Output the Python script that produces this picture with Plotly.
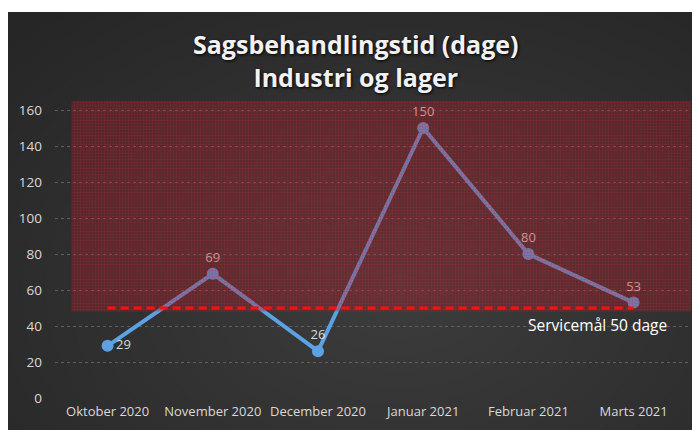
import plotly.graph_objects as go

months = ["Oktober 2020", "November 2020", "December 2020", "Januar 2021", "Februar 2021", "Marts 2021"]
days = [29, 69, 26, 150, 80, 53]
service_goal = 50
service_label = "Servicemål 50 dage"
title_lines = ["Sagsbehandlingstid (dage)", "Industri og lager"]
y_ticks = [0, 20, 40, 60, 80, 100, 120, 140, 160]

W, H = 700, 430
OFF = 8  # page body margin
ML, MR, MT, MB = 47, 17, 93, 40
PW, PH = W - ML - MR, H - MT - MB


def px(x):
    """screen x -> paper"""
    return (x - OFF - ML) / PW


def py(y):
    """screen y -> paper"""
    return (H - MB - (y - OFF)) / PH


fig = go.Figure()

# main series
label_pos = ["middle right"] + ["top center"] * (len(days) - 1)
fig.add_trace(go.Scatter(
    x=list(range(len(months))), y=days, mode="lines+markers+text",
    line=dict(color="#5ca2e2", width=4),
    marker=dict(size=12, color="#5ca2e2"),
    text=[str(v) for v in days], textposition=label_pos,
    textfont=dict(family="Open Sans", size=13, color="#d9d9d9"),
    cliponaxis=False, hoverinfo="skip", showlegend=False,
))

# red hatched zone above the service goal
zx0, zx1 = -0.342, 5.6
zy0, zy1 = 48, 170
fig.add_trace(go.Scatter(
    x=[zx0, zx1, zx1, zx0, zx0], y=[zy0, zy0, zy1, zy1, zy0],
    mode="lines", line=dict(width=0), fill="toself",
    fillcolor="rgba(175,25,40,0.30)",
    fillpattern=dict(shape="+", size=3, solidity=0.3,
                     fgcolor="rgb(195,35,50)", fgopacity=0.4,
                     bgcolor="rgba(175,25,40,0.30)", fillmode="overlay"),
    hoverinfo="skip", showlegend=False,
))

# service goal line
fig.add_trace(go.Scatter(
    x=[0, len(months) - 1], y=[service_goal, service_goal], mode="lines",
    line=dict(color="#ff1010", width=3, dash="8px,5px"),
    hoverinfo="skip", showlegend=False,
))

shapes = []
# dark background card
shapes.append(dict(type="rect", xref="paper", yref="paper",
                   x0=px(6), x1=px(712), y0=py(442), y1=py(12),
                   fillcolor="#262626", line=dict(width=0), layer="below"))
# radial gradient approximation
cx, cy = 400, 290
N = 22
for i in range(N):
    f = 1 - i / N
    rx, ry = 520 * f, 360 * f
    shapes.append(dict(type="circle", xref="paper", yref="paper",
                       x0=px(cx - rx), x1=px(cx + rx), y0=py(cy + ry), y1=py(cy - ry),
                       fillcolor="rgba(255,255,255,0.0085)", line=dict(width=0), layer="below"))
# white strip on top to cover gradient spill
shapes.append(dict(type="rect", xref="paper", yref="paper", x0=px(0), x1=px(712), y0=py(12), y1=py(0),
                   fillcolor="white", line=dict(width=0), layer="below"))

annotations = [
    dict(xref="paper", yref="paper", x=px(355.5), y=py(60),
         text="<b>" + "<br>".join(title_lines) + "</b>", showarrow=False,
         font=dict(family="Open Sans", size=25, color="#f2f2f2", shadow="1px 1px 3px #000"),
         align="center", xanchor="center", yanchor="middle"),
    dict(xref="paper", yref="paper", x=px(597.5), y=py(325),
         text=service_label, showarrow=False,
         font=dict(family="Open Sans", size=15.5, color="#ffffff"),
         xanchor="center", yanchor="middle"),
]

fig.update_layout(
    width=W, height=H,
    margin=dict(l=ML, r=MR, t=MT, b=MB),
    paper_bgcolor="white", plot_bgcolor="rgba(0,0,0,0)",
    shapes=shapes, annotations=annotations,
    xaxis=dict(tickmode="array", tickvals=list(range(len(months))), ticktext=months,
               range=[-0.5, -0.5 + PW / 105.2], showgrid=False, zeroline=False, showline=False,
               tickfont=dict(family="Open Sans", size=13, color="#d9d9d9"),
               ticklabelstandoff=4),
    yaxis=dict(range=[0, 165], tickvals=y_ticks, showgrid=True,
               gridcolor="#5e5e5e", griddash="dot", gridwidth=1,
               zeroline=False, showline=False,
               tickfont=dict(family="Open Sans", size=13.5, color="#d9d9d9"),
               ticklabelstandoff=12),
    hovermode=False,
)

fig.write_html("out.html")
